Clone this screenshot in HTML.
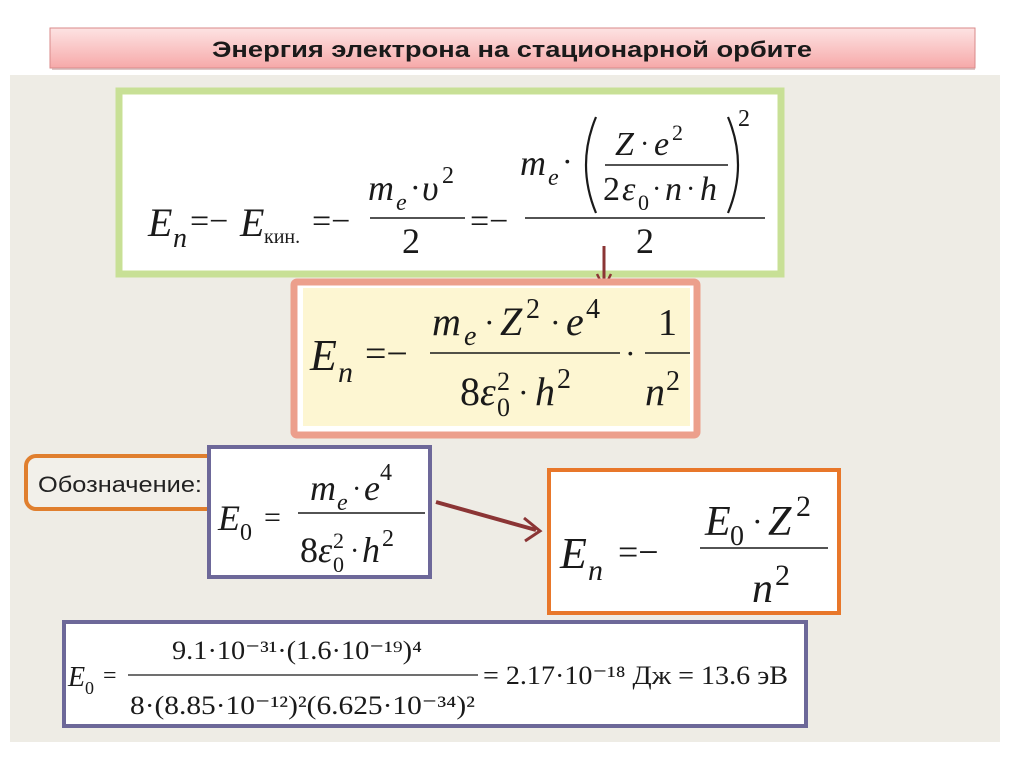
<!DOCTYPE html>
<html><head><meta charset="utf-8"><style>
html,body{margin:0;padding:0;background:#fff;width:1024px;height:767px;overflow:hidden}
svg{display:block}
text{font-family:"Liberation Serif",serif}
.i{font-style:italic}
.s{font-family:"Liberation Sans",sans-serif}
</style></head><body>
<svg width="1024" height="767" viewBox="0 0 1024 767">
<defs>
<linearGradient id="tg" x1="0" y1="0" x2="0" y2="1">
<stop offset="0" stop-color="#fde3e3"/><stop offset="1" stop-color="#f6a9a9"/>
</linearGradient>
</defs>
<rect x="10" y="75" width="990" height="667" fill="#eeece5"/>
<!-- title -->
<rect x="50" y="28" width="925" height="40" fill="url(#tg)" stroke="#d98a8a" stroke-width="1"/>
<line x1="52" y1="69" x2="975" y2="69" stroke="#c9a0a0" stroke-width="2" opacity="0.6"/>
<text x="512" y="57" text-anchor="middle" class="s" style="font-weight:bold" font-size="22" fill="#1a1a1a" textLength="600" lengthAdjust="spacingAndGlyphs">Энергия электрона на стационарной орбите</text>

<!-- green box -->
<rect x="119" y="91" width="662" height="183" fill="#fff" stroke="#c8e096" stroke-width="7"/>
<g fill="#1a1a1a">
<text x="148" y="236" font-size="40" class="i">E</text>
<text x="173" y="247" font-size="28" class="i">n</text>
<text x="190" y="232" font-size="34">=−</text>
<text x="240" y="236" font-size="40" class="i">E</text>
<text x="264" y="243" font-size="20">кин.</text>
<text x="312" y="232" font-size="34">=−</text>
<text x="368" y="200" font-size="36" class="i">m</text>
<text x="396" y="210" font-size="24" class="i">e</text>
<text x="410" y="198" font-size="32">·</text>
<text x="422" y="200" font-size="36" class="i">υ</text>
<text x="442" y="183" font-size="24">2</text>
<line x1="370" y1="218" x2="465" y2="218" stroke="#1a1a1a" stroke-width="1.5"/>
<text x="402" y="253" font-size="36">2</text>
<text x="470" y="232" font-size="34">=−</text>
<line x1="525" y1="218" x2="765" y2="218" stroke="#1a1a1a" stroke-width="1.5"/>
<text x="520" y="175" font-size="36" class="i">m</text>
<text x="548" y="185" font-size="24" class="i">e</text>
<text x="562" y="172" font-size="32">·</text>
<path d="M596,117 Q576,165 596,213" fill="none" stroke="#1a1a1a" stroke-width="2.2"/>
<path d="M728,117 Q748,165 728,213" fill="none" stroke="#1a1a1a" stroke-width="2.2"/>
<text x="615" y="155" font-size="34" class="i">Z</text>
<text x="640" y="153" font-size="28">·</text>
<text x="654" y="155" font-size="34" class="i">e</text>
<text x="672" y="140" font-size="22">2</text>
<line x1="605" y1="165" x2="728" y2="165" stroke="#1a1a1a" stroke-width="1.5"/>
<text x="603" y="200" font-size="34">2</text>
<text x="622" y="200" font-size="34" class="i">ε</text>
<text x="638" y="210" font-size="22">0</text>
<text x="652" y="198" font-size="28">·</text>
<text x="665" y="200" font-size="34" class="i">n</text>
<text x="686" y="198" font-size="28">·</text>
<text x="700" y="200" font-size="34" class="i">h</text>
<text x="738" y="126" font-size="24">2</text>
<text x="636" y="253" font-size="36">2</text>
</g>
<!-- down arrow -->
<line x1="604" y1="246" x2="604" y2="284" stroke="#8b3535" stroke-width="3"/>
<polyline points="597,274 604,288 611,274" fill="none" stroke="#8b3535" stroke-width="2.5"/>

<!-- pink box -->
<rect x="294" y="282" width="403" height="153" fill="#fff" stroke="#ec9f8c" stroke-width="7" rx="3"/>
<rect x="303" y="288" width="387" height="138" fill="#fdf6d2"/>
<g fill="#1a1a1a">
<text x="310" y="370" font-size="44" class="i">E</text>
<text x="338" y="382" font-size="30" class="i">n</text>
<text x="365" y="366" font-size="38">=−</text>
<text x="432" y="335" font-size="40" class="i">m</text>
<text x="464" y="345" font-size="28" class="i">e</text>
<text x="484" y="333" font-size="32">·</text>
<text x="500" y="335" font-size="40" class="i">Z</text>
<text x="526" y="318" font-size="28">2</text>
<text x="550" y="333" font-size="32">·</text>
<text x="566" y="335" font-size="40" class="i">e</text>
<text x="586" y="318" font-size="28">4</text>
<line x1="430" y1="353" x2="620" y2="353" stroke="#1a1a1a" stroke-width="1.5"/>
<text x="460" y="405" font-size="40">8</text>
<text x="480" y="405" font-size="40" class="i">ε</text>
<text x="497" y="416" font-size="26">0</text>
<text x="497" y="390" font-size="26">2</text>
<text x="518" y="403" font-size="32">·</text>
<text x="535" y="405" font-size="40" class="i">h</text>
<text x="557" y="388" font-size="28">2</text>
<text x="625" y="364" font-size="32">·</text>
<text x="658" y="335" font-size="38">1</text>
<line x1="645" y1="353" x2="690" y2="353" stroke="#1a1a1a" stroke-width="1.5"/>
<text x="645" y="405" font-size="40" class="i">n</text>
<text x="666" y="390" font-size="28">2</text>
</g>

<!-- orange label -->
<rect x="26" y="456" width="200" height="53" rx="10" fill="#f2f0ea" stroke="#e07f2e" stroke-width="4"/>
<text x="38" y="492" font-size="22" fill="#222" class="s" textLength="164" lengthAdjust="spacingAndGlyphs">Обозначение:</text>
<!-- purple E0 box -->
<rect x="209" y="447" width="221" height="130" fill="#fff" stroke="#6d6899" stroke-width="4"/>
<g fill="#1a1a1a">
<text x="218" y="530" font-size="36" class="i">E</text>
<text x="240" y="540" font-size="24">0</text>
<text x="264" y="527" font-size="30">=</text>
<text x="310" y="500" font-size="36" class="i">m</text>
<text x="337" y="510" font-size="24" class="i">e</text>
<text x="352" y="498" font-size="28">·</text>
<text x="364" y="500" font-size="36" class="i">e</text>
<text x="380" y="480" font-size="24">4</text>
<line x1="298" y1="513" x2="425" y2="513" stroke="#1a1a1a" stroke-width="1.5"/>
<text x="300" y="562" font-size="36">8</text>
<text x="318" y="562" font-size="36" class="i">ε</text>
<text x="333" y="572" font-size="22">0</text>
<text x="333" y="548" font-size="22">2</text>
<text x="350" y="560" font-size="28">·</text>
<text x="362" y="562" font-size="36" class="i">h</text>
<text x="382" y="546" font-size="24">2</text>
</g>
<!-- diagonal arrow -->
<line x1="436" y1="502" x2="536" y2="530" stroke="#8b3535" stroke-width="4"/>
<polyline points="524,518 540,531 525,541" fill="none" stroke="#8b3535" stroke-width="3"/>
<!-- orange box -->
<rect x="549" y="470" width="290" height="143" fill="#fff" stroke="#e8772a" stroke-width="4"/>
<g fill="#1a1a1a">
<text x="560" y="568" font-size="44" class="i">E</text>
<text x="588" y="580" font-size="30" class="i">n</text>
<text x="618" y="564" font-size="36">=−</text>
<line x1="700" y1="548" x2="828" y2="548" stroke="#1a1a1a" stroke-width="1.5"/>
<text x="705" y="535" font-size="42" class="i">E</text>
<text x="730" y="545" font-size="28">0</text>
<text x="752" y="532" font-size="32">·</text>
<text x="768" y="535" font-size="42" class="i">Z</text>
<text x="796" y="516" font-size="30">2</text>
<text x="752" y="602" font-size="42" class="i">n</text>
<text x="775" y="585" font-size="30">2</text>
</g>
<!-- bottom box -->
<rect x="64" y="622" width="742" height="104" fill="#fff" stroke="#6d6899" stroke-width="4"/>
<g fill="#1a1a1a">
<text x="68" y="686" font-size="28" class="i">E</text>
<text x="85" y="694" font-size="18">0</text>
<text x="103" y="683" font-size="24">=</text>
<line x1="128" y1="675" x2="478" y2="675" stroke="#1a1a1a" stroke-width="1.3"/>
<text x="172" y="659" font-size="26" textLength="250" lengthAdjust="spacingAndGlyphs">9.1·10⁻³¹·(1.6·10⁻¹⁹)⁴</text>
<text x="130" y="714" font-size="26" textLength="345" lengthAdjust="spacingAndGlyphs">8·(8.85·10⁻¹²)²(6.625·10⁻³⁴)²</text>
<text x="483" y="684" font-size="26" textLength="305" lengthAdjust="spacingAndGlyphs">= 2.17·10⁻¹⁸ Дж = 13.6  эВ</text>
</g>
</svg>
</body></html>
